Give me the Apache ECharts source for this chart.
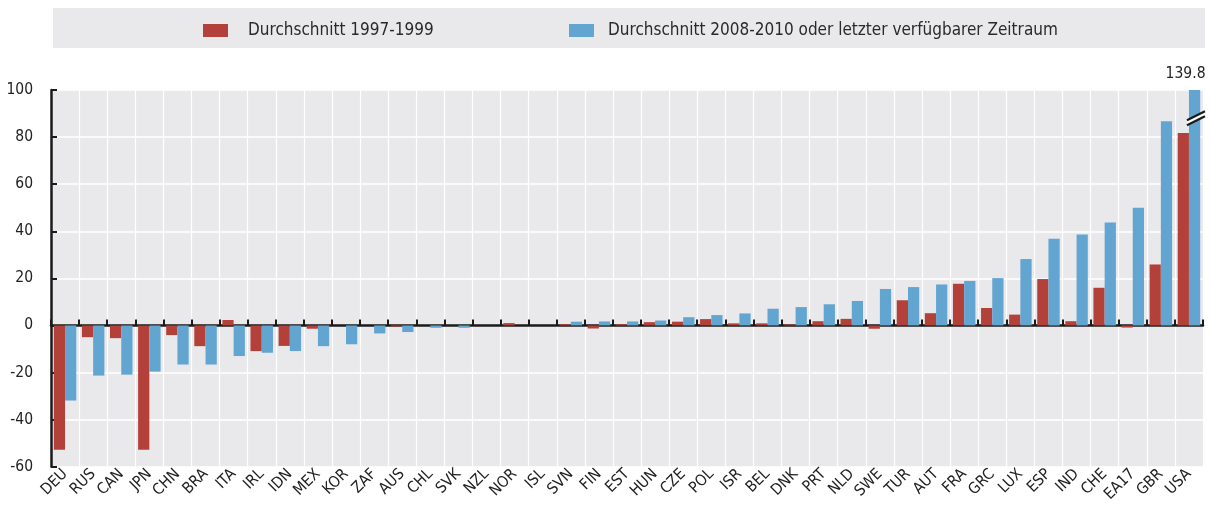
<!DOCTYPE html>
<html>
<head>
<meta charset="utf-8">
<script src="https://cdn.jsdelivr.net/npm/echarts@6/dist/echarts.min.js"></script>
<style>
html,body{margin:0;padding:0;background:#fff;}
#chart{width:1210px;height:505px;}
</style>
</head>
<body>
<div id="chart"></div>
<script>
const categories = ['DEU','RUS','CAN','JPN','CHN','BRA','ITA','IRL','IDN','MEX','KOR','ZAF','AUS','CHL','SVK','NZL','NOR','ISL','SVN','FIN','EST','HUN','CZE','POL','ISR','BEL','DNK','PRT','NLD','SWE','TUR','AUT','FRA','GRC','LUX','ESP','IND','CHE','EA17','GBR','USA'];
const avg1997_1999 = [-52.8,-5.0,-5.4,-52.8,-4.1,-8.8,2.3,-10.9,-8.7,-1.4,null,null,-0.5,null,null,null,1.0,null,0.5,-1.3,0.5,1.4,1.6,2.7,0.9,0.9,0.4,1.8,2.8,-1.4,10.7,5.2,17.7,7.4,4.6,19.7,1.8,16.0,-0.9,25.9,81.7];
const avg2008_2010 = [-31.9,-21.3,-20.9,-19.6,-16.6,-16.6,-13.0,-11.6,-10.9,-8.8,-8.0,-3.4,-2.8,-1.0,-1.0,null,null,null,1.6,1.7,1.7,2.1,3.5,4.4,5.1,7.1,7.8,9.0,10.4,15.5,16.3,17.4,18.9,20.1,28.2,36.8,38.6,43.7,50.0,86.7,139.8];
const seriesNames = ['Durchschnitt 1997-1999','Durchschnitt 2008-2010 oder letzter verfügbarer Zeitraum'];
const yTicks = {min:-60, max:100, interval:20};
const axisBreak = [['USA', 88]];

const FONT = "'DejaVu Sans Condensed','Liberation Sans Narrow',sans-serif";
const RED = '#b3413a', BLUE = '#63a5d1', DARK = '#1a1a1a', BG = '#e9e9ec';

const chart = echarts.init(document.getElementById('chart'), null, {renderer:'canvas'});
const legendBase = {
  orient:'horizontal', top:22, padding:0, itemWidth:25, itemHeight:13, icon:'rect',
  selectedMode:false
};
const option = {
  animation:false,
  textStyle:{fontFamily:FONT},
  graphic:[{type:'rect', left:53, top:8, shape:{width:1152, height:40}, style:{fill:BG}, z:-10}],
  legend:[
    Object.assign({}, legendBase, {data:[seriesNames[0]], left:203,
      textStyle:{fontFamily:FONT, fontSize:17, color:'#2a2a2a', padding:[0,0,0,15]}}),
    Object.assign({}, legendBase, {data:[seriesNames[1]], left:569,
      textStyle:{fontFamily:FONT, fontSize:17, color:'#2a2a2a', padding:[0,0,0,9]}})
  ],
  grid:{left:51, right:7, top:90, bottom:38, show:true, backgroundColor:BG, borderWidth:0},
  xAxis:[
    {type:'category', data:categories, position:'bottom',
     axisLine:{show:false, onZero:false}, axisTick:{show:false},
     axisLabel:{rotate:45, fontSize:15.5, color:'#222', margin:5, interval:0, fontFamily:FONT},
     splitLine:{show:true, interval:0, lineStyle:{color:'#ffffff', width:1.2}}},
    {type:'category', data:categories, position:'bottom',
     axisLine:{show:true, onZero:true, lineStyle:{color:DARK, width:2.5}},
     axisTick:{show:true, inside:true, length:6, interval:0, lineStyle:{color:DARK, width:2}},
     axisLabel:{show:false}, splitLine:{show:false}}
  ],
  yAxis:{type:'value', min:yTicks.min, max:yTicks.max, interval:yTicks.interval,
    axisLine:{show:true, onZero:false, lineStyle:{color:DARK, width:2.5}},
    axisTick:{show:true, inside:true, length:6, lineStyle:{color:DARK, width:2}},
    axisLabel:{fontSize:15.5, color:'#222', margin:18, fontFamily:FONT},
    splitLine:{show:true, lineStyle:{color:'#ffffff', width:1.5}}},
  series:[
    {name:seriesNames[0], type:'bar', xAxisIndex:0, data:avg1997_1999, itemStyle:{color:RED},
     barGap:'0%', barCategoryGap:'20%'},
    {name:seriesNames[1], type:'bar', xAxisIndex:0, data:avg2008_2010.map((v)=>{
        if (v !== null && v > yTicks.max) {
          return {value:v, label:{show:true, position:'top', distance:8, offset:[-9,0],
            formatter:(p)=>String(p.value), fontSize:15.5, color:'#222', fontFamily:FONT}};
        }
        return v;
      }), itemStyle:{color:BLUE}, clip:true,
     barGap:'0%', barCategoryGap:'20%'},
    {type:'custom', xAxisIndex:0, data:axisBreak, silent:true, z:10, clip:false,
     renderItem:function(params, api){
       const c = api.coord([api.value(0), api.value(1)]);
       const w = api.size([1,0])[0];
       const cx = c[0] + w*0.25, cy = c[1];
       const hx = 9, dy = 4.5, gap = 2.5;
       return {type:'group', children:[
         {type:'polygon', shape:{points:[[cx-hx, cy+dy-gap],[cx+hx, cy-dy-gap],[cx+hx, cy-dy+gap],[cx-hx, cy+dy+gap]]},
          style:{fill:'#ffffff'}},
         {type:'line', shape:{x1:cx-hx, y1:cy+dy-gap, x2:cx+hx, y2:cy-dy-gap}, style:{stroke:DARK, lineWidth:2}},
         {type:'line', shape:{x1:cx-hx, y1:cy+dy+gap, x2:cx+hx, y2:cy-dy+gap}, style:{stroke:DARK, lineWidth:2}}
       ]};
     }}
  ]
};
chart.setOption(option);
</script>
</body>
</html>
